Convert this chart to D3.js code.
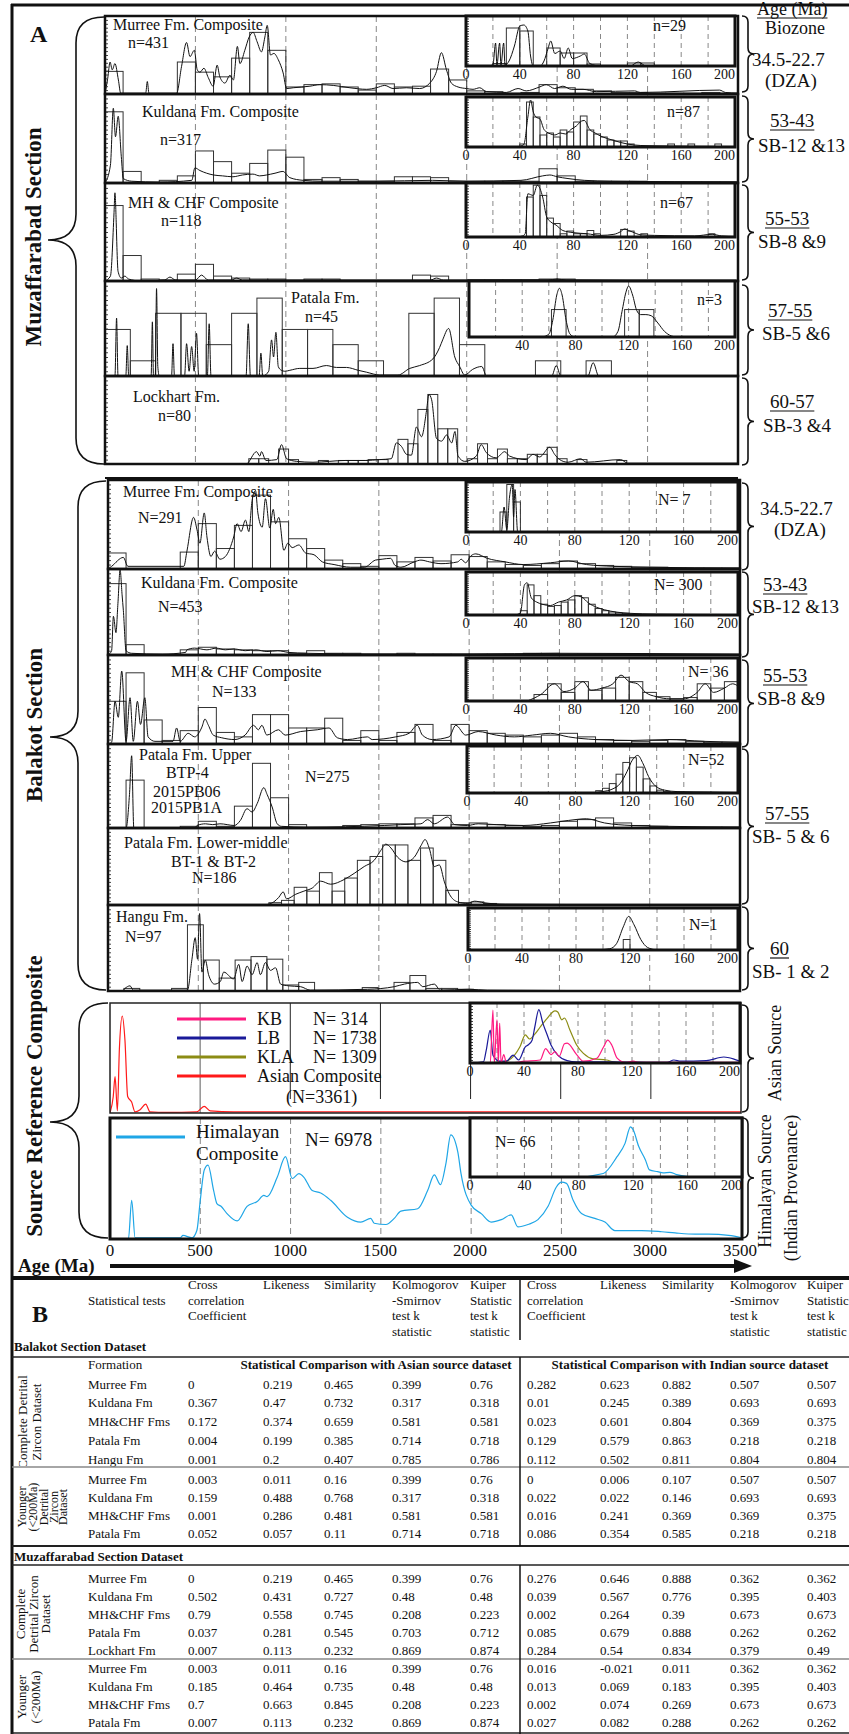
<!DOCTYPE html>
<html><head><meta charset="utf-8">
<script src="https://cdn.jsdelivr.net/npm/d3@7"></script>
<style>body{margin:0;background:#fff} text{font-family:"Liberation Serif","Times New Roman",serif;fill:#111}</style>
</head><body><script>
// ---------- data: main panels (age Ma, relative height 0-100) ----------
const muzMurreeBins = [29,0,0,0,41,28,22,46,79,56,9,12,13,9,5,13,9,10,32,18,4,3,1,2,12,8,6,4,2,2,1,1,1,2,1];
const muzMurreeCurve = [[0,0],[15,20],[28,41],[40,31],[55,39],[74,18],[87,1],[225,1],[234,16],[243,1],[396,1],[423,35],[451,66],[470,48],[494,56],[510,31],[525,28],[547,33],[571,21],[598,10],[620,37],[635,22],[663,14],[691,24],[710,18],[732,61],[746,39],[773,56],[797,73],[819,79],[841,67],[865,54],[884,73],[897,88],[915,50],[934,52],[958,44],[985,27],[1004,7],[1041,8],[1133,10],[1188,12],[1262,11],[1354,8],[1446,6],[1501,8],[1547,11],[1593,7],[1666,8],[1740,7],[1796,14],[1833,29],[1860,53],[1888,31],[1915,14],[1952,9],[1998,7],[2035,6],[2072,8],[2109,3],[2219,2],[2284,7],[2329,4],[2403,9],[2440,12],[2486,7],[2532,10],[2578,6],[2643,6],[2716,3],[2928,4],[2960,2],[3398,5],[3430,2],[3500,1]];
const muzKuldanaBins = [80,13,0,3,8,36,24,11,22,37,29,4,6,4,2,2,7,7,6,2,2,2,2,2,16,8,2,2,2,2,1,1,1,1,1];
const muzKuldanaCurve = [[0,0],[30,20],[46,84],[58,52],[73,75],[90,30],[101,5],[148,2],[300,1],[480,3],[497,17],[525,14],[562,11],[600,9],[650,8],[707,7],[760,9],[818,10],[855,8],[893,9],[940,11],[984,13],[1022,6],[1096,3],[1200,2],[1500,2],[1812,3],[2000,2],[2300,3],[2420,8],[2460,9],[2500,7],[2560,5],[2650,3],[2800,2],[3500,1]];
const muzMHBins = [77,26,2,1,7,17,5,3,2,2,0,2,2,0,0,0,0,6,5,0,1,1,1,1,2,2,0,0,0,0,0,0,0,0,0];
const muzMHCurve = [[0,0],[30,5],[50,70],[55,90],[62,60],[66,34],[72,10],[90,3],[110,5],[130,2],[200,0],[330,1],[359,4],[390,1],[500,1],[534,6],[570,1],[700,1],[727,3],[760,1],[1800,1],[1833,3],[1870,1],[2450,1],[2500,2],[2550,1],[3500,0]];
const muzPatalaBins = [49,16,66,66,33,66,82,49,49,33,16,0,66,82,33,0,0,16,0,16,0,0,0,0,0];
const muzPatalaCurve = [[0,0],[55,0],[64,61],[72,0],[115,0],[123,32],[131,0],[255,0],[262,57],[268,0],[278,0],[285,92],[292,10],[300,0],[368,0],[376,34],[384,0],[440,0],[451,34],[465,5],[479,31],[493,5],[506,45],[518,0],[566,0],[576,55],[586,0],[780,0],[792,55],[804,0],[852,0],[862,24],[872,0],[905,5],[921,38],[932,20],[945,46],[958,10],[975,6],[994,5],[1022,6],[1077,8],[1150,8],[1224,11],[1280,9],[1335,9],[1400,6],[1446,4],[1520,1],[1620,1],[1685,8],[1740,11],[1813,18],[1850,30],[1867,38],[1900,50],[1934,20],[1961,10],[1989,1],[2033,7],[2083,10],[2110,0],[2470,0],[2495,11],[2520,0],[2670,0],[2699,14],[2730,0],[3500,0]];
const muzLockhartBins = [0,0,0,0,0,0,0,0,0,0,0,0,0,0,6,6,0,17,5,0,0,4,0,4,4,4,5,5,0,28,23,62,79,40,40,0,6,23,6,17,6,6,11,11,19,6,0,5,0,0,0,4,0,0,0,0,0,0,0,0,0,0,0];
const muzLockhartCurve = [[0,0],[780,0],[838,14],[856,9],[865,14],[890,4],[950,5],[976,22],[1004,6],[1060,3],[1150,2],[1330,4],[1440,4],[1517,5],[1583,6],[1611,24],[1639,20],[1667,11],[1694,10],[1722,42],[1750,31],[1778,61],[1791,79],[1806,73],[1833,29],[1861,26],[1889,33],[1917,24],[1935,37],[1952,9],[1989,3],[2053,9],[2080,22],[2108,13],[2163,7],[2210,14],[2237,9],[2329,5],[2366,11],[2403,8],[2459,19],[2486,11],[2514,5],[2560,2],[2630,6],[2660,2],[2851,5],[2890,1],[3500,1]];

const balMurreeBins = [18,0,0,0,19,51,23,49,83,53,34,23,10,6,3,15,8,13,9,16,14,8,5,4,6,9,6,4,3,2,2,1,1,1,1];
const balMurreeCurve = [[0,0],[20,3],[85,13],[110,3],[420,3],[437,20],[474,58],[493,44],[509,29],[533,63],[548,36],[570,14],[590,20],[620,11],[650,14],[696,36],[715,51],[737,42],[761,55],[780,42],[798,77],[817,88],[830,63],[854,47],[872,79],[896,46],[915,67],[928,51],[946,58],[974,21],[996,29],[1020,24],[1057,27],[1094,18],[1141,16],[1187,8],[1252,5],[1344,2],[1420,2],[1481,10],[1518,11],[1565,12],[1590,4],[1622,2],[1696,8],[1733,10],[1780,8],[1844,6],[1937,8],[1956,11],[1980,7],[2011,15],[2037,17],[2100,12],[2200,8],[2300,5],[2450,7],[2550,9],[2650,5],[2800,3],[3000,2],[3500,1]];
const balKuldanaBins = [83,12,0,0,6,9,7,6,5,5,2,5,2,2,1,1,2,1,1,1,1,1,1,2,2,1,1,1,1,1,0,0,0,0,0];
const balKuldanaCurve = [[0,0],[20,5],[30,45],[44,26],[55,60],[67,99],[78,70],[85,52],[100,5],[130,2],[300,1],[430,3],[437,6],[480,8],[548,6],[600,8],[650,6],[700,7],[760,5],[820,6],[880,4],[940,5],[1000,3],[1100,2],[1500,1],[2000,1],[2500,2],[3500,1]];
const balMHBins = [48,80,27,4,15,41,13,8,33,33,18,18,29,4,15,4,13,22,4,22,15,12,10,8,10,12,8,5,4,3,4,5,3,2,2];
const balMHCurve = [[0,0],[20,2],[39,48],[57,30],[76,82],[100,3],[122,52],[140,3],[163,48],[180,22],[204,52],[222,8],[260,3],[360,3],[380,18],[400,3],[444,12],[480,8],[520,19],[537,28],[556,21],[583,10],[630,7],[700,5],[759,10],[806,21],[833,16],[852,21],[880,10],[944,16],[981,10],[1067,14],[1159,16],[1224,18],[1270,7],[1326,5],[1437,8],[1463,5],[1593,8],[1667,12],[1713,21],[1741,10],[1796,5],[1889,8],[1926,21],[1981,10],[2050,14],[2150,10],[2250,8],[2350,10],[2450,12],[2550,8],[2700,5],[2900,4],[3100,5],[3300,3],[3500,2]];
const balPatUpBins = [0,57,0,0,2,8,2,26,77,36,4,0,0,3,4,5,5,12,15,4,6,4,3,2,3,8,10,12,6,3,2,1,1,1,1];
const balPatUpCurve = [[0,0],[100,0],[119,40],[131,86],[143,0],[480,0],[493,3],[540,5],[580,4],[620,5],[700,3],[733,9],[770,23],[798,19],[826,29],[863,48],[881,40],[909,25],[937,5],[960,2],[1100,1],[1530,3],[1622,4],[1733,5],[1770,10],[1807,5],[1881,13],[1920,4],[1990,3],[2050,5],[2150,4],[2300,3],[2450,6],[2550,9],[2650,11],[2750,6],[2900,3],[3100,2],[3500,1]];
const balPatLowBins = [0,0,0,0,0,0,0,0,0,0,0,0,3,6,23,18,42,18,35,58,63,78,78,58,74,58,19,3,4,2,0,0,0,0,0,0,0,0,0,0,0,0,0,0,0,0,0,0,0];
const balPatLowCurve = [[0,0],[850,0],[891,1],[946,10],[970,17],[989,8],[1040,14],[1085,18],[1131,22],[1178,31],[1233,27],[1307,33],[1363,41],[1419,50],[1474,58],[1511,71],[1539,79],[1567,74],[1604,62],[1650,56],[1696,62],[1733,77],[1756,85],[1780,73],[1807,50],[1835,52],[1863,30],[1891,14],[1937,4],[1993,2],[2030,5],[2080,3],[2200,1],[3500,0]];
const balHanguBins = [0,3,0,0,3,77,36,15,36,40,37,7,10,0,0,0,4,0,10,18,3,3,2,0,0,0,0,0,0,0,0,0,0,0,0,0,0,0,0,0];
const balHanguCurve = [[0,0],[80,0],[94,3],[122,6],[140,1],[440,1],[465,37],[483,62],[496,37],[507,90],[520,22],[539,36],[557,19],[590,8],[622,11],[641,22],[696,14],[724,31],[743,11],[770,29],[798,19],[826,33],[844,19],[872,33],[900,24],[928,27],[956,8],[1000,6],[1067,5],[1120,1],[1437,2],[1585,5],[1641,8],[1715,10],[1743,5],[1807,8],[1840,1],[2000,2],[2100,1],[3500,0]];

// ---------- data: 0-200 Ma insets ----------
const muzMurreeInsetBins = [0,0,5,76,70,0,36,26,26,4,0,0,6,6,0,0,0,0,0,0];
const muzMurreeInsetCurve = [[15,0],[20,2],[22,46],[23,2],[25,46],[26,2],[28,46],[29,2],[32,10],[36,40],[40,80],[43,82],[46,70],[48,20],[50,0],[55,0],[58,10],[61,35],[63,50],[66,25],[70,30],[73,15],[76,36],[79,15],[85,20],[88,24],[92,5],[100,0],[122,0],[128,8],[134,0],[200,0]];
const muzKuldanaInsetBins = [0,0,0,0,0,0,0,0,6,90,60,24,28,20,34,30,50,62,34,26,20,14,12,12,6,0,0,0,0,0,6,0,0,6,0,0,0,6,0,0];
const muzKuldanaInsetCurve = [[38,0],[43,5],[46,60],[48,94],[50,70],[52,60],[55,56],[58,35],[60,30],[63,26],[66,24],[70,28],[74,26],[78,35],[82,42],[86,52],[88,53],[92,35],[96,28],[100,22],[105,17],[110,13],[115,9],[120,6],[130,3],[150,2],[200,1]];
const muzMHInsetBins = [0,0,0,0,0,0,0,0,0,74,96,77,35,25,6,11,6,6,12,6,0,0,0,14,11,0,6,0,0,0,0,0,0,0,0,0,6,0,0,0];
const muzMHInsetCurve = [[38,0],[42,2],[44,6],[46,80],[50,77],[53,96],[57,74],[60,37],[63,28],[67,22],[72,12],[80,8],[90,6],[100,3],[110,5],[115,10],[118,15],[121,12],[124,9],[130,4],[140,3],[170,2],[183,5],[190,2],[200,1]];
const muzPatalaInsetBins = [0,0,0,0,0,49,0,0,0,0,49,49,0,0,0,0,0,0];
const muzPatalaInsetCurve = [[55,0],[60,5],[63,30],[66,75],[68,87],[70,75],[73,30],[76,5],[80,0],[108,0],[112,10],[115,45],[118,80],[120,91],[123,75],[126,48],[129,40],[133,40],[137,38],[142,25],[147,10],[152,2],[156,0]];
const balMurreeInsetBins = [0,0,0,0,0,40,95,60,0,0,0,0,0,0,0,0,0,0,0,0,0,0,0,0,0,0,0,0,0,0,0,0,0,0,0,0,0,0,0,0];
const balMurreeInsetCurve = [[20,0],[26,0],[28,50],[30,5],[32,70],[34,95],[35,30],[36,85],[38,0],[200,0]];
const balKuldanaInsetBins = [0,0,0,0,0,0,0,0,10,70,45,25,20,22,30,35,45,40,25,15,10,7,5,4,0,0,0,0,0,0,0,0,0,0,0,0,0,0,0,0];
const balKuldanaInsetCurve = [[36,0],[40,5],[43,70],[45,75],[48,40],[52,30],[56,25],[62,22],[68,30],[74,35],[80,45],[85,42],[90,28],[96,18],[102,12],[110,7],[120,4],[140,2],[200,1]];
const balMHInsetBins = [0,0,0,0,0,15,40,20,45,25,30,55,45,20,10,5,8,40,30,45];
const balMHInsetCurve = [[45,0],[55,15],[65,40],[72,22],[80,30],[86,45],[92,25],[100,30],[108,40],[114,60],[120,45],[126,40],[132,20],[140,10],[150,5],[160,5],[170,20],[176,40],[182,20],[190,30],[196,40],[200,35]];
const balPatUpInsetBins = [0,0,0,0,0,0,0,0,0,0,0,0,0,0,0,0,0,0,0,5,10,20,40,65,75,55,30,15,6,3,0,0,0,0,0,0,0,0,0,0];
const balPatUpInsetCurve = [[90,0],[100,3],[107,8],[113,20],[118,45],[122,70],[126,80],[130,62],[134,35],[139,15],[146,6],[155,3],[180,2],[200,1]];
const balHanguInsetBins = [0,0,0,0,0,0,0,0,0,0,0,0,0,0,0,0,0,0,0,0,0,0,0,25,0,0,0,0,0,0,0,0,0,0,0,0,0,0,0,0];
const balHanguInsetCurve = [[95,0],[105,3],[110,15],[115,55],[119,80],[123,60],[128,25],[133,6],[140,0]];

// ---------- data: source reference ----------
const asianCurve = [[0,0],[18,15],[28,33],[41,2],[52,58],[68,88],[83,66],[98,15],[120,10],[139,1],[167,3],[198,8],[222,1],[315,0.5],[481,1],[522,6],[556,2],[685,1],[3500,1]];
const kbInset = [[0,0],[15,0],[17,88],[18,0],[20,72],[21,0],[22,66],[23,0],[25,14],[27,0],[41,3],[52,5],[56,24],[60,14],[63,19],[66,11],[70,32],[72,33],[79,14],[84,3],[94,8],[99,27],[102,38],[105,30],[109,8],[115,1],[121,3],[125,1],[200,1]];
const lbInset = [[0,0],[10,2],[12,21],[15,55],[17,13],[22,3],[27,3],[32,13],[36,5],[41,27],[43,30],[46,38],[48,60],[51,89],[54,66],[57,48],[60,30],[65,13],[72,4],[79,2],[101,2],[146,1],[151,5],[156,3],[175,4],[188,10],[195,7],[200,3]];
const klaInset = [[0,0],[20,1],[27,3],[37,27],[41,47],[44,40],[48,48],[52,60],[57,74],[63,87],[65,85],[68,72],[70,75],[74,55],[79,30],[84,16],[91,7],[101,5],[106,2],[112,0],[200,0]];
const himCurve = [[0,0],[102,0],[120,32],[139,1],[389,1],[404,3],[454,1],[481,7],[500,32],[522,57],[543,61],[574,40],[593,29],[615,27],[648,21],[704,15],[759,27],[815,31],[852,36],[870,35],[926,51],[972,68],[1009,50],[1046,54],[1074,51],[1120,40],[1167,38],[1222,32],[1315,18],[1389,14],[1444,17],[1463,13],[1528,12],[1574,17],[1611,23],[1704,25],[1759,40],[1796,53],[1830,45],[1861,63],[1887,86],[1926,72],[1944,54],[2000,28],[2056,21],[2111,14],[2167,16],[2222,20],[2259,10],[2315,12],[2370,16],[2426,27],[2472,43],[2500,47],[2528,46],[2565,32],[2611,21],[2685,17],[2741,14],[2796,7],[2870,7],[2944,7],[3056,6],[3130,5],[3241,4],[3315,4],[3426,3],[3500,1]];
const himInset = [[0,0],[78,0],[98,6],[108,34],[114,57],[118,85],[120,80],[124,52],[129,29],[132,12],[138,9],[142,7],[147,8],[152,4],[159,1],[169,0]];
const asianLegend = ["KB","LB","KLA","Asian Composite"];
const asianLegendN = ["N= 314","N= 1738","N= 1309",""];

// ---------- data: axes ----------
const mainGridAges = [500,1000,1500,2000,2500,3000];
const axisAges = [0,500,1000,1500,2000,2500,3000,3500];
const insetGridAges = [20,40,60,80,100,120,140,160,180];
const insetTickAges = [0,40,80,120,160,200];

// ---------- data: table B ----------
const testHeaders = [["Cross","correlation","Coefficient"],["Likeness"],["Similarity"],["Kolmogorov","-Smirnov","test k","statistic"],["Kuiper","Statistic","test k","statistic"]];
const balCompleteNames = ["Murree Fm","Kuldana Fm","MH&CHF Fms","Patala Fm","Hangu Fm"];
const balCompleteVals = [[0,0.219,0.465,0.399,0.76,0.282,0.623,0.882,0.507,0.507],[0.367,0.47,0.732,0.317,0.318,0.01,0.245,0.389,0.693,0.693],[0.172,0.374,0.659,0.581,0.581,0.023,0.601,0.804,0.369,0.375],[0.004,0.199,0.385,0.714,0.718,0.129,0.579,0.863,0.218,0.218],[0.001,0.2,0.407,0.785,0.786,0.112,0.502,0.811,0.804,0.804]];
const balYoungNames = ["Murree Fm","Kuldana Fm","MH&CHF Fms","Patala Fm"];
const balYoungVals = [[0.003,0.011,0.16,0.399,0.76,0,0.006,0.107,0.507,0.507],[0.159,0.488,0.768,0.317,0.318,0.022,0.022,0.146,0.693,0.693],[0.001,0.286,0.481,0.581,0.581,0.016,0.241,0.369,0.369,0.375],[0.052,0.057,0.11,0.714,0.718,0.086,0.354,0.585,0.218,0.218]];
const muzCompleteNames = ["Murree Fm","Kuldana Fm","MH&CHF Fms","Patala Fm","Lockhart Fm"];
const muzCompleteVals = [[0,0.219,0.465,0.399,0.76,0.276,0.646,0.888,0.362,0.362],[0.502,0.431,0.727,0.48,0.48,0.039,0.567,0.776,0.395,0.403],[0.79,0.558,0.745,0.208,0.223,0.002,0.264,0.39,0.673,0.673],[0.037,0.281,0.545,0.703,0.712,0.085,0.679,0.888,0.262,0.262],[0.007,0.113,0.232,0.869,0.874,0.284,0.54,0.834,0.379,0.49]];
const muzYoungNames = ["Murree Fm","Kuldana Fm","MH&CHF Fms","Patala Fm"];
const muzYoungVals = [[0.003,0.011,0.16,0.399,0.76,0.016,-0.021,0.011,0.362,0.362],[0.185,0.464,0.735,0.48,0.48,0.013,0.069,0.183,0.395,0.403],[0.7,0.663,0.845,0.208,0.223,0.002,0.074,0.269,0.673,0.673],[0.007,0.113,0.232,0.869,0.874,0.027,0.082,0.288,0.262,0.262]];

// ---------- drawing ----------
const svg = d3.select("body").append("svg").attr("width", 849).attr("height", 1734);
let clipCount = 0;
function clipRect(x, y, w, h) {
  const id = "clip" + (clipCount++);
  svg.append("clipPath").attr("id", id).append("rect").attr("x", x).attr("y", y).attr("width", w).attr("height", h);
  return "url(#" + id + ")";
}
function txt(t, x, y, size, opts) {
  opts = opts || {};
  const el = svg.append("text").attr("x", x).attr("y", y).style("font-size", size + "px").text(t);
  if (opts.bold) el.style("font-weight", "bold");
  if (opts.anchor) el.attr("text-anchor", opts.anchor);
  if (opts.rot) el.attr("transform", "rotate(-90," + x + "," + y + ")");
  if (opts.underline) {
    const w = el.node().getComputedTextLength();
    const x0 = opts.anchor == "middle" ? x - w/2 : x;
    svg.append("line").attr("x1", x0).attr("x2", x0 + w).attr("y1", y + 3).attr("y2", y + 3).style("stroke", "#111").style("stroke-width", 1.2);
  }
  return el;
}
function histogram(g, x, y, bins, start, width) {
  g.append("g").selectAll("rect")
    .data(bins.map((v, i) => ({a: start + i*width, v: v})).filter(d => d.v > 0))
    .join("rect")
    .attr("x", d => x(d.a)).attr("width", d => x(d.a + width) - x(d.a))
    .attr("y", d => y(d.v)).attr("height", d => y(0) - y(d.v))
    .attr("fill", "none").style("stroke", "#333").style("stroke-width", 1);
}
function drawCurve(g, x, y, pts, color, w) {
  g.append("path").datum(pts)
    .attr("d", d3.line().x(d => x(d[0])).y(d => y(d[1])).curve(d3.curveMonotoneX))
    .attr("fill", "none").style("stroke", color || "#111").style("stroke-width", w || 1);
}
function grid(g, x, y0, y1, ages, dash, color) {
  g.append("g").selectAll("line").data(ages).join("line")
    .attr("x1", d => x(d)).attr("x2", d => x(d)).attr("y1", y0).attr("y2", y1)
    .style("stroke", color || "#888").style("stroke-width", 1)
    .style("stroke-dasharray", dash || null);
}
function minorTicks(x0, y) {
  svg.append("g").attr("transform", "translate(" + x0 + ",0)")
    .call(d3.axisRight(y).ticks(20).tickSize(3).tickFormat(""))
    .call(a => a.select(".domain").remove())
    .selectAll("line").style("stroke", "#444");
}

function inset(c) {
  const x = d3.scaleLinear().domain([0, 200]).range([c.x0, c.x1]);
  const y = d3.scaleLinear().domain([0, 100]).range([c.y1, c.y0]);
  svg.append("rect").attr("x", c.x0).attr("y", c.y0).attr("width", c.x1 - c.x0).attr("height", c.y1 - c.y0).attr("fill", "#fff");
  const g = svg.append("g").attr("clip-path", clipRect(c.x0, c.y0, c.x1 - c.x0, c.y1 - c.y0));
  grid(g, x, c.y0, c.y1, insetGridAges, "5,4");
  if (c.bins) histogram(g, x, y, c.bins, c.binStart || 0, c.binWidth || 5);
  (c.curves || []).forEach(k => drawCurve(g, x, y, k[0], k[1], k[2]));
  if (c.ticks !== false) minorTicks(c.x0, y);
  svg.append("rect").attr("x", c.x0).attr("y", c.y0).attr("width", c.x1 - c.x0).attr("height", c.y1 - c.y0)
    .attr("fill", "none").style("stroke", "#111").style("stroke-width", 3);
  svg.append("g").selectAll("text").data(insetTickAges.filter(d => !(c.noZero && d == 0))).join("text")
    .attr("x", d => d == 200 ? c.x1 : x(d)).attr("y", c.y1 + 13)
    .attr("text-anchor", d => d == 200 ? "end" : "middle")
    .style("font-size", "14px").text(d => d);
  if (c.label) txt(c.label[0], c.label[1], c.label[2], 16);
}

function mainPanel(p) {
  const x = d3.scaleLinear().domain([0, 3500]).range([p.x0, p.x1]);
  const y = d3.scaleLinear().domain([0, 100]).range([p.y1, p.y0]);
  const g = svg.append("g").attr("clip-path", clipRect(p.x0, p.y0, p.x1 - p.x0, p.y1 - p.y0));
  grid(g, x, p.y0, p.y1, mainGridAges, "6,4");
  histogram(g, x, y, p.bins, p.binStart || 0, p.binWidth || 100);
  drawCurve(g, x, y, p.curve);
  minorTicks(p.x0, y);
  svg.append("rect").attr("x", p.x0).attr("y", p.y0).attr("width", p.x1 - p.x0).attr("height", p.y1 - p.y0)
    .attr("fill", "none").style("stroke", "#111").style("stroke-width", 2.5);
  p.labels.forEach(l => txt(l[0], l[1], l[2], 16));
  if (p.inset) inset(p.inset);
}

// Muzaffarabad section
const muzPanels = [
  {y0: 16, y1: 94, bins: muzMurreeBins, curve: muzMurreeCurve, labels: [["Murree Fm. Composite", 113, 30], ["n=431", 128, 48]],
   inset: {x0: 466, x1: 735, y0: 16, y1: 66, bins: muzMurreeInsetBins, binWidth: 10, curves: [[muzMurreeInsetCurve]], label: ["n=29", 653, 31]}},
  {y0: 94, y1: 183, bins: muzKuldanaBins, curve: muzKuldanaCurve, labels: [["Kuldana Fm. Composite", 142, 117], ["n=317", 160, 145]],
   inset: {x0: 466, x1: 735, y0: 97, y1: 147, bins: muzKuldanaInsetBins, curves: [[muzKuldanaInsetCurve]], label: ["n=87", 667, 117]}},
  {y0: 183, y1: 281, bins: muzMHBins, curve: muzMHCurve, labels: [["MH & CHF  Composite", 128, 208], ["n=118", 161, 226]],
   inset: {x0: 466, x1: 735, y0: 183, y1: 237, bins: muzMHInsetBins, curves: [[muzMHInsetCurve]], label: ["n=67", 660, 208]}},
  {y0: 281, y1: 376, bins: muzPatalaBins, binWidth: 140, curve: muzPatalaCurve, labels: [["Patala Fm.", 291, 303], ["n=45", 305, 322]],
   inset: {x0: 469, x1: 735, y0: 281, y1: 337, bins: muzPatalaInsetBins, binStart: 7, binWidth: 11, curves: [[muzPatalaInsetCurve]], label: ["n=3", 697, 305], noZero: true, ticks: false}},
  {y0: 376, y1: 464, bins: muzLockhartBins, binStart: 25, binWidth: 55, curve: muzLockhartCurve, labels: [["Lockhart Fm.", 133, 402], ["n=80", 158, 421]]}
];
muzPanels.forEach(p => mainPanel(Object.assign({x0: 105, x1: 738}, p)));
svg.append("line").attr("x1", 105).attr("x2", 738).attr("y1", 478).attr("y2", 478).style("stroke", "#111").style("stroke-width", 2);

// Balakot section
const balPanels = [
  {y0: 480, y1: 569, bins: balMurreeBins, curve: balMurreeCurve, labels: [["Murree Fm. Composite", 123, 497], ["N=291", 138, 523]],
   inset: {x0: 466, x1: 738, y0: 482, y1: 532, bins: balMurreeInsetBins, curves: [[balMurreeInsetCurve]], label: ["N= 7", 658, 505]}},
  {y0: 569, y1: 655, bins: balKuldanaBins, curve: balKuldanaCurve, labels: [["Kuldana Fm. Composite", 141, 588], ["N=453", 158, 612]],
   inset: {x0: 466, x1: 738, y0: 572, y1: 615, bins: balKuldanaInsetBins, curves: [[balKuldanaInsetCurve]], label: ["N= 300", 654, 590]}},
  {y0: 655, y1: 744, bins: balMHBins, curve: balMHCurve, labels: [["MH & CHF Composite", 171, 677], ["N=133", 212, 697]],
   inset: {x0: 466, x1: 738, y0: 658, y1: 701, bins: balMHInsetBins, binWidth: 10, curves: [[balMHInsetCurve]], label: ["N= 36", 688, 677]}},
  {y0: 744, y1: 828, bins: balPatUpBins, curve: balPatUpCurve, labels: [["Patala Fm. Upper", 139, 760], ["BTP-4", 166, 778], ["2015PB06", 153, 797], ["2015PB1A", 151, 813], ["N=275", 305, 782]],
   inset: {x0: 467, x1: 738, y0: 746, y1: 793, bins: balPatUpInsetBins, curves: [[balPatUpInsetCurve]], label: ["N=52", 688, 765]}},
  {y0: 828, y1: 905, bins: balPatLowBins, binStart: 51, binWidth: 70, curve: balPatLowCurve, labels: [["Patala Fm. Lower-middle", 124, 848], ["BT-1 & BT-2", 171, 867], ["N=186", 192, 883]]},
  {y0: 905, y1: 991, bins: balHanguBins, binWidth: 88, curve: balHanguCurve, labels: [["Hangu Fm.", 116, 922], ["N=97", 125, 942]],
   inset: {x0: 468, x1: 738, y0: 908, y1: 950, bins: balHanguInsetBins, curves: [[balHanguInsetCurve]], label: ["N=1", 689, 930]}}
];
balPanels.forEach(p => mainPanel(Object.assign({x0: 108, x1: 740}, p)));

// Source reference: Asian
(function() {
  const x0 = 110, x1 = 741, y0 = 1003, y1 = 1113;
  const x = d3.scaleLinear().domain([0, 3500]).range([x0, x1]);
  const y = d3.scaleLinear().domain([0, 100]).range([y1, y0]);
  svg.append("line").attr("x1", x(500)).attr("x2", x(500)).attr("y1", y0).attr("y2", y1).style("stroke", "#777").style("stroke-width", 1.2);
  grid(svg, x, y0, 1099, [1000, 1500, 2000, 2500, 3000], null, "#222");
  const g = svg.append("g").attr("clip-path", clipRect(x0, y0, x1 - x0, y1 - y0));
  drawCurve(g, x, y, asianCurve, "#ff1a1a", 1.2);
  svg.append("rect").attr("x", x0).attr("y", y0).attr("width", x1 - x0).attr("height", y1 - y0).attr("fill", "none").style("stroke", "#222").style("stroke-width", 1.5);
  const colors = ["#ff1a80", "#1a1a99", "#8c8c14", "#ff1a1a"];
  asianLegend.forEach((n, i) => {
    const ly = 1019 + i*19;
    svg.append("line").attr("x1", 177).attr("x2", 246).attr("y1", ly).attr("y2", ly).style("stroke", colors[i]).style("stroke-width", 3);
    txt(n, 257, ly + 6, 18);
    if (asianLegendN[i]) txt(asianLegendN[i], 313, ly + 6, 18);
  });
  txt("(N=3361)", 286, 1103, 18);
  inset({x0: 470, x1: 740, y0: 1003, y1: 1063, ticks: true,
    curves: [[klaInset, "#8c8c14", 1.2], [lbInset, "#1a1a99", 1.2], [kbInset, "#ff1a80", 1.2]]});
})();

// Source reference: Himalayan
(function() {
  const x0 = 110, x1 = 742, y0 = 1118, y1 = 1239;
  const x = d3.scaleLinear().domain([0, 3500]).range([x0, x1]);
  const y = d3.scaleLinear().domain([0, 100]).range([y1, y0]);
  grid(svg, x, y0, y1, mainGridAges, "6,4");
  const g = svg.append("g").attr("clip-path", clipRect(x0, y0, x1 - x0, y1 - y0));
  drawCurve(g, x, y, himCurve, "#1fa6e6", 1.2);
  svg.append("rect").attr("x", x0).attr("y", y0).attr("width", x1 - x0).attr("height", y1 - y0).attr("fill", "none").style("stroke", "#111").style("stroke-width", 3);
  svg.append("line").attr("x1", 116).attr("x2", 185).attr("y1", 1137).attr("y2", 1137).style("stroke", "#1fa6e6").style("stroke-width", 3);
  txt("Himalayan", 196, 1138, 19);
  txt("Composite", 196, 1160, 19);
  txt("N= 6978", 305, 1146, 19);
  inset({x0: 470, x1: 742, y0: 1118, y1: 1177, curves: [[himInset, "#1fa6e6", 1.2]], label: ["N= 66", 495, 1147], ticks: false});
})();

// bottom age axis
const xAxisScale = d3.scaleLinear().domain([0, 3500]).range([110, 740]);
svg.append("g").selectAll("text").data(axisAges).join("text")
  .attr("x", d => xAxisScale(d)).attr("y", 1256).attr("text-anchor", "middle")
  .style("font-size", "17px").text(d => d);
svg.append("line").attr("x1", 110).attr("x2", 738).attr("y1", 1266).attr("y2", 1266).style("stroke", "#111").style("stroke-width", 4);
svg.append("path").attr("d", "M734,1259 L752,1266 L734,1273 Z").attr("fill", "#111");
txt("Age (Ma)", 18, 1272, 19, {bold: true});

// braces
function brace(x, y0, y1, w, r, ym) {
  const xm = x + w/2; ym = ym || (y0 + y1)/2;
  return `M${x},${y0} Q${xm},${y0} ${xm},${y0 + r} L${xm},${ym - r} Q${xm},${ym} ${x + w},${ym} Q${xm},${ym} ${xm},${ym + r} L${xm},${y1 - r} Q${xm},${y1} ${x},${y1}`;
}
function drawBrace(x, y0, y1, w, r, ym) {
  svg.append("path").attr("d", brace(x, y0, y1, w, r, ym)).attr("fill", "none").style("stroke", "#111").style("stroke-width", 1.6);
}
drawBrace(104, 17, 464, -56, 26, 240);
drawBrace(106, 481, 990, -56, 26, 737);
drawBrace(108, 1003, 1238, -58, 26, 1122);
[[16, 92], [96, 182], [185, 280], [285, 375], [378, 465], [483, 570], [572, 657], [660, 747], [749, 904], [907, 990], [1005, 1112], [1118, 1238]]
  .forEach(b => drawBrace(742, b[0], b[1], 12, 6));

// section titles
txt("A", 30, 42, 24, {bold: true});
txt("Muzaffarabad Section", 41, 237, 23, {bold: true, rot: true, anchor: "middle"});
txt("Balakot Section", 42, 725, 23, {bold: true, rot: true, anchor: "middle"});
txt("Source Reference Composite", 42, 1096, 23, {bold: true, rot: true, anchor: "middle"});
txt("Asian Source", 781, 1053, 18, {rot: true, anchor: "middle"});
txt("Himalayan Source", 771, 1181, 18, {rot: true, anchor: "middle"});
txt("(Indian Provenance)", 797, 1188, 18, {rot: true, anchor: "middle"});

// biozone labels
txt("Age (Ma)", 757, 15, 18, {underline: true});
txt("Biozone", 765, 34, 18);
[["34.5-22.7", 752, 66], ["(DZA)", 765, 87], ["SB-12 &13", 758, 152], ["SB-8 &9", 758, 248], ["SB-5 &6", 762, 340], ["SB-3 &4", 763, 432],
 ["34.5-22.7", 760, 515], ["(DZA)", 774, 536], ["SB-12 &13", 752, 613], ["SB-8 &9", 757, 705], ["SB- 5 & 6", 752, 843], ["SB- 1 & 2", 752, 978]]
  .forEach(l => txt(l[0], l[1], l[2], 19));
[["53-43", 770, 127], ["55-53", 765, 225], ["57-55", 768, 317], ["60-57", 770, 408], ["53-43", 763, 591], ["55-53", 763, 682], ["57-55", 765, 820], ["60", 770, 955]]
  .forEach(l => txt(l[0], l[1], l[2], 19, {underline: true}));

// frame of panel A
svg.append("line").attr("x1", 11).attr("x2", 849).attr("y1", 5).attr("y2", 5).style("stroke", "#111").style("stroke-width", 3);
svg.append("line").attr("x1", 12).attr("x2", 12).attr("y1", 4).attr("y2", 1734).style("stroke", "#111").style("stroke-width", 3);
svg.append("line").attr("x1", 11).attr("x2", 849).attr("y1", 1278).attr("y2", 1278).style("stroke", "#111").style("stroke-width", 4);

// ---------- table B ----------
const colX = [188, 263, 324, 392, 470, 527, 600, 662, 730, 807];
txt("B", 32, 1322, 24, {bold: true});
txt("Statistical tests", 88, 1305, 13);
colX.forEach((cx, i) => testHeaders[i % 5].forEach((line, j) => txt(line, cx, 1289 + j*15.5, 13)));
txt("Balakot Section Dataset", 14, 1351, 13, {bold: true});
txt("Formation", 88, 1369, 13);
txt("Statistical Comparison with Asian source dataset", 376, 1369, 13, {bold: true, anchor: "middle"});
txt("Statistical Comparison with Indian source dataset", 690, 1369, 13, {bold: true, anchor: "middle"});
txt("Muzaffarabad Section Dataset", 14, 1561, 13, {bold: true});

function rows(names, vals, yStart, pitch) {
  names.forEach((n, i) => {
    const yy = yStart + i*pitch + 4.5;
    txt(n, 88, yy, 13);
    vals[i].forEach((v, j) => txt(String(v), colX[j], yy, 13));
  });
}
rows(balCompleteNames, balCompleteVals, 1384, 18.75);
rows(balYoungNames, balYoungVals, 1479, 18.3);
rows(muzCompleteNames, muzCompleteVals, 1578, 18);
rows(muzYoungNames, muzYoungVals, 1668, 18.3);

function hline(y, color, w) {
  svg.append("line").attr("x1", 12).attr("x2", 849).attr("y1", y).attr("y2", y).style("stroke", color).style("stroke-width", w);
}
hline(1357, "#222", 1.5); hline(1467, "#888", 1.5); hline(1546, "#222", 2); hline(1565, "#222", 1.5); hline(1659, "#888", 1.5); hline(1733, "#222", 1.5);
[[1280, 1340], [1357, 1546], [1565, 1734]].forEach(s =>
  svg.append("line").attr("x1", 520).attr("x2", 520).attr("y1", s[0]).attr("y2", s[1]).style("stroke", "#111").style("stroke-width", 1.5));

function sideLabel(lines, xs, yc, y0, y1, size) {
  const g = svg.append("g").attr("clip-path", clipRect(13, y0, 60, y1 - y0));
  lines.forEach((l, i) => g.append("text").attr("x", xs[i]).attr("y", yc).attr("text-anchor", "middle")
    .attr("transform", "rotate(-90," + xs[i] + "," + yc + ")").style("font-size", size + "px").text(l));
}
sideLabel(["Complete Detrital", "Zircon Dataset"], [27, 41], 1422, 1358, 1466, 13);
sideLabel(["Younger", "(<200Ma)", "Detrital", "Zircon", "Dataset"], [26, 37, 48, 58, 67], 1507, 1468, 1545, 12);
sideLabel(["Complete", "Detrital Zircon", "Dataset"], [25, 38, 50], 1614, 1566, 1658, 13);
sideLabel(["Younger", "(<200Ma)"], [26, 40], 1697, 1660, 1733, 13);
</script></body></html>
